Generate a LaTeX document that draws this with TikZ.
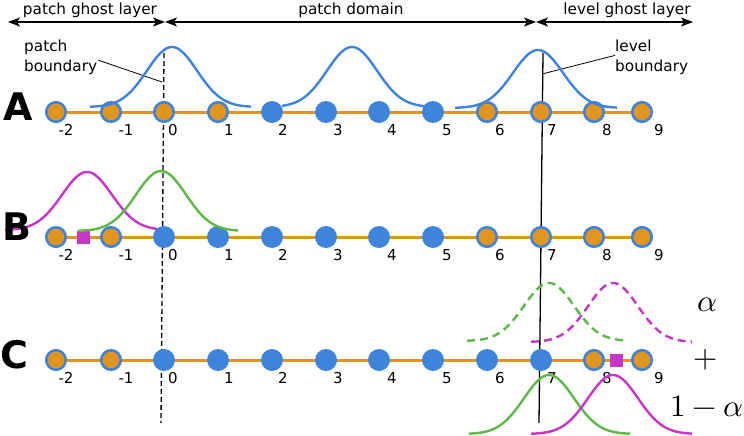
\documentclass[tikz,border=0pt]{standalone}
\usepackage{unicode-math}
\setmainfont{DejaVu Sans}
\setmathfont{Latin Modern Math}
\usetikzlibrary{arrows.meta,backgrounds}
\definecolor{orng}{HTML}{E0951F}
\definecolor{blu}{HTML}{3F84DB}
\definecolor{mag}{HTML}{C735C6}
\definecolor{grn}{HTML}{5CB945}
\newcommand\gaussline[6]{%
  \draw[#1] plot[domain=#5:#6, samples=90, smooth] (\x, {#3-#4*exp(-0.5*((\x-#2)/25)^2)});}
\tikzset{
  onode/.style={circle, fill=orng, draw=blu, line width=2.6pt, minimum size=19.5pt, inner sep=0pt},
  bnode/.style={circle, fill=blu, minimum size=22pt, inner sep=0pt},
  sqnode/.style={rectangle, fill=mag, minimum size=13pt, inner sep=0pt},
  numlab/.style={font=\fontsize{15}{17}\selectfont, inner sep=0pt},
  txt/.style={font=\fontsize{15.3}{17}\selectfont, inner sep=0pt},
  rowlab/.style={font=\fontsize{38}{42}\selectfont\bfseries, inner sep=0pt},
  mathlab/.style={font=\fontsize{31}{33}\selectfont, inner sep=0pt},
  curve/.style={line width=2.4pt},
  dashcurve/.style={line width=2.4pt, dash pattern=on 8pt off 5pt},
  dimarrow/.style={line width=1.3pt, {Stealth[length=12pt,width=9pt,inset=3pt]}-{Stealth[length=12pt,width=9pt,inset=3pt]}},
  leader/.style={line width=0.8pt}
}
\begin{document}
\begin{tikzpicture}[x=1pt,y=-1pt]
\useasboundingbox (0,0) rectangle (744,436);
% top dimension arrows
\coordinate (t0) at (8,22);
\coordinate (t1) at (165,22);
\coordinate (t2) at (536,22);
\coordinate (t3) at (693,22);
\draw[dimarrow] (t0) -- (t1);
\draw[dimarrow] (t1) -- (t2);
\draw[dimarrow] (t2) -- (t3);
\node[txt, anchor=base] (tpg) at (90,15) {patch ghost layer};
\node[txt, anchor=base] (tpd) at (351,15) {patch domain};
\node[txt, anchor=base] (tlg) at (627,15) {level ghost layer};
% boundaries
\coordinate (pbtop) at (164,53);
\coordinate (pbbot) at (161,423);
\coordinate (lbtop) at (543,53);
\coordinate (lbbot) at (539,423);
\draw[line width=1.3pt, dash pattern=on 5pt off 3pt] (pbtop) -- (pbbot);
\draw[line width=1.3pt] (lbtop) -- (lbbot);
% rows
\foreach \r/\yy/\lo/\hi in {A/112/4/7, B/237/2/7, C/360/2/9} {
  \foreach \px/\lx [count=\i from 0] in {56/66,111/126,164/173,218/229,272/283,326/338,379/392,433/447,487/500,541/552,594/607,642/659} {
    \pgfmathtruncatemacro\n{\i-2}
    \ifnum\i<\lo \def\st{onode}\else\ifnum\i>\hi \def\st{onode}\else\def\st{bnode}\fi\fi
    \node[\st] (\r\i) at (\px,\yy) {};
    \node[numlab] (\r n\i) at (\lx,\yy+18) {\n};
  }
  \begin{scope}[on background layer]
    \draw[orng, line width=3pt] (\r0.center) -- (\r11.center);
  \end{scope}
}
\node[sqnode] (sqB) at (83,237) {};
\node[sqnode] (sqC) at (616,360) {};
% labels for boundaries
\node[txt, anchor=base west] (pb1) at (24,52) {patch};
\node[txt, anchor=base west] (pb2) at (24,71) {boundary};
\coordinate (pbend) at (162,82);
\draw[leader] ([xshift=1pt,yshift=-1pt]pb2.north east) -- (pbend);
\node[txt, anchor=base west] (lb1) at (615,52) {level};
\node[txt, anchor=base west] (lb2) at (615,71) {boundary};
\coordinate (lbend) at (542,74);
\draw[leader] ([yshift=-3pt]lb1.south west) -- (lbend);
% gaussians row A
\gaussline{curve, blu}{172}{107}{60}{90}{251}
\gaussline{curve, blu}{352}{107}{60}{282}{425}
\gaussline{curve, blu}{538}{108}{58}{455}{617}
% row B
\gaussline{curve, mag}{87}{230}{58}{5}{157}
\gaussline{curve, grn}{161}{231}{60}{78}{238}
% row C
\gaussline{dashcurve, grn}{549}{341}{58}{467}{627}
\gaussline{dashcurve, mag}{613}{342}{59}{531}{692}
\gaussline{curve, grn}{549}{434}{59}{469}{630}
\gaussline{curve, mag}{613}{434}{59}{531}{692}
% row letters
\node[rowlab] (LA) at (18,107) {A};
\node[rowlab] (LB) at (17,227) {B};
\node[rowlab] (LC) at (14,355) {C};
% weights
\node[mathlab] (alpha) at (707,305) {$\alpha$};
\node[mathlab] (plus) at (706,360) {$+$};
\node[mathlab] (oma) at (707,406) {$1-\alpha$};
\end{tikzpicture}
\end{document}
